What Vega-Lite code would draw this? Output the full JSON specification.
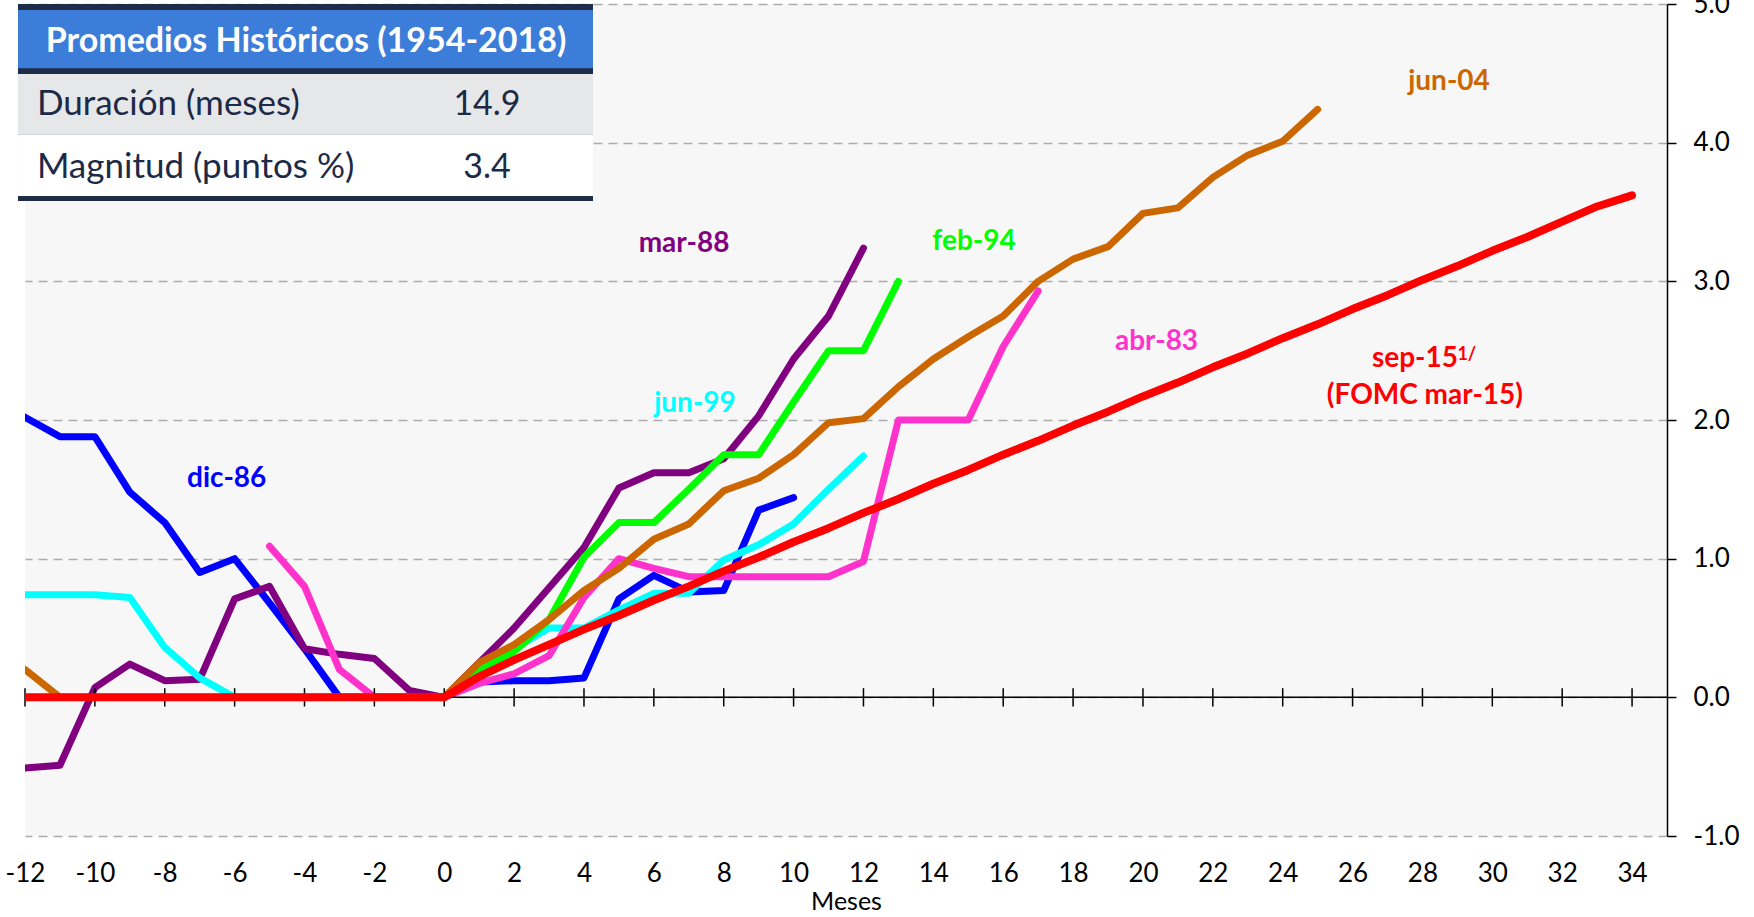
{
  "$schema": "https://vega.github.io/schema/vega-lite/v6.json",
  "width": 1642,
  "height": 832,
  "autosize": "none",
  "padding": {"left": 25, "top": 4, "right": 87, "bottom": 81},
  "background": "white",
  "config": {
    "view": {"fill": "#f7f7f7", "stroke": null},
    "font": "Lato",
    "axis": {"labelFont": "Lato", "titleFont": "Lato"}
  },
  "datasets": {
    "series": [
      {"serie":"dic-86","mes":-12,"valor":2.02},{"serie":"dic-86","mes":-11,"valor":1.88},{"serie":"dic-86","mes":-10,"valor":1.88},{"serie":"dic-86","mes":-9,"valor":1.48},{"serie":"dic-86","mes":-8,"valor":1.26},{"serie":"dic-86","mes":-7,"valor":0.90},{"serie":"dic-86","mes":-6,"valor":1.00},{"serie":"dic-86","mes":-5,"valor":0.68},{"serie":"dic-86","mes":-4,"valor":0.35},{"serie":"dic-86","mes":-3,"valor":0},{"serie":"dic-86","mes":-2,"valor":0},{"serie":"dic-86","mes":-1,"valor":0},{"serie":"dic-86","mes":0,"valor":0},{"serie":"dic-86","mes":1,"valor":0.11},{"serie":"dic-86","mes":2,"valor":0.12},{"serie":"dic-86","mes":3,"valor":0.12},{"serie":"dic-86","mes":4,"valor":0.14},{"serie":"dic-86","mes":5,"valor":0.71},{"serie":"dic-86","mes":6,"valor":0.88},{"serie":"dic-86","mes":7,"valor":0.76},{"serie":"dic-86","mes":8,"valor":0.77},{"serie":"dic-86","mes":9,"valor":1.35},{"serie":"dic-86","mes":10,"valor":1.44},
      {"serie":"mar-88","mes":-12,"valor":-0.51},{"serie":"mar-88","mes":-11,"valor":-0.49},{"serie":"mar-88","mes":-10,"valor":0.07},{"serie":"mar-88","mes":-9,"valor":0.24},{"serie":"mar-88","mes":-8,"valor":0.12},{"serie":"mar-88","mes":-7,"valor":0.13},{"serie":"mar-88","mes":-6,"valor":0.71},{"serie":"mar-88","mes":-5,"valor":0.80},{"serie":"mar-88","mes":-4,"valor":0.35},{"serie":"mar-88","mes":-3,"valor":0.31},{"serie":"mar-88","mes":-2,"valor":0.28},{"serie":"mar-88","mes":-1,"valor":0.05},{"serie":"mar-88","mes":0,"valor":0},{"serie":"mar-88","mes":1,"valor":0.25},{"serie":"mar-88","mes":2,"valor":0.50},{"serie":"mar-88","mes":3,"valor":0.79},{"serie":"mar-88","mes":4,"valor":1.08},{"serie":"mar-88","mes":5,"valor":1.51},{"serie":"mar-88","mes":6,"valor":1.62},{"serie":"mar-88","mes":7,"valor":1.62},{"serie":"mar-88","mes":8,"valor":1.72},{"serie":"mar-88","mes":9,"valor":2.03},{"serie":"mar-88","mes":10,"valor":2.44},{"serie":"mar-88","mes":11,"valor":2.75},{"serie":"mar-88","mes":12,"valor":3.24},
      {"serie":"jun-99","mes":-12,"valor":0.74},{"serie":"jun-99","mes":-11,"valor":0.74},{"serie":"jun-99","mes":-10,"valor":0.74},{"serie":"jun-99","mes":-9,"valor":0.72},{"serie":"jun-99","mes":-8,"valor":0.36},{"serie":"jun-99","mes":-7,"valor":0.14},{"serie":"jun-99","mes":-6,"valor":0},{"serie":"jun-99","mes":-5,"valor":0},{"serie":"jun-99","mes":-4,"valor":0},{"serie":"jun-99","mes":-3,"valor":0},{"serie":"jun-99","mes":-2,"valor":0},{"serie":"jun-99","mes":-1,"valor":0},{"serie":"jun-99","mes":0,"valor":0},{"serie":"jun-99","mes":1,"valor":0.20},{"serie":"jun-99","mes":2,"valor":0.35},{"serie":"jun-99","mes":3,"valor":0.50},{"serie":"jun-99","mes":4,"valor":0.50},{"serie":"jun-99","mes":5,"valor":0.63},{"serie":"jun-99","mes":6,"valor":0.75},{"serie":"jun-99","mes":7,"valor":0.75},{"serie":"jun-99","mes":8,"valor":0.99},{"serie":"jun-99","mes":9,"valor":1.10},{"serie":"jun-99","mes":10,"valor":1.25},{"serie":"jun-99","mes":11,"valor":1.50},{"serie":"jun-99","mes":12,"valor":1.74},
      {"serie":"abr-83","mes":-5,"valor":1.09},{"serie":"abr-83","mes":-4,"valor":0.80},{"serie":"abr-83","mes":-3,"valor":0.20},{"serie":"abr-83","mes":-2,"valor":0},{"serie":"abr-83","mes":-1,"valor":0},{"serie":"abr-83","mes":0,"valor":0},{"serie":"abr-83","mes":1,"valor":0.10},{"serie":"abr-83","mes":2,"valor":0.17},{"serie":"abr-83","mes":3,"valor":0.30},{"serie":"abr-83","mes":4,"valor":0.72},{"serie":"abr-83","mes":5,"valor":1.00},{"serie":"abr-83","mes":6,"valor":0.93},{"serie":"abr-83","mes":7,"valor":0.87},{"serie":"abr-83","mes":8,"valor":0.87},{"serie":"abr-83","mes":9,"valor":0.87},{"serie":"abr-83","mes":10,"valor":0.87},{"serie":"abr-83","mes":11,"valor":0.87},{"serie":"abr-83","mes":12,"valor":0.98},{"serie":"abr-83","mes":13,"valor":2.00},{"serie":"abr-83","mes":14,"valor":2.00},{"serie":"abr-83","mes":15,"valor":2.00},{"serie":"abr-83","mes":16,"valor":2.53},{"serie":"abr-83","mes":17,"valor":2.93},
      {"serie":"feb-94","mes":0,"valor":0},{"serie":"feb-94","mes":1,"valor":0.20},{"serie":"feb-94","mes":2,"valor":0.33},{"serie":"feb-94","mes":3,"valor":0.56},{"serie":"feb-94","mes":4,"valor":1.01},{"serie":"feb-94","mes":5,"valor":1.26},{"serie":"feb-94","mes":6,"valor":1.26},{"serie":"feb-94","mes":7,"valor":1.50},{"serie":"feb-94","mes":8,"valor":1.75},{"serie":"feb-94","mes":9,"valor":1.75},{"serie":"feb-94","mes":10,"valor":2.13},{"serie":"feb-94","mes":11,"valor":2.50},{"serie":"feb-94","mes":12,"valor":2.50},{"serie":"feb-94","mes":13,"valor":3.00},
      {"serie":"jun-04","mes":-12,"valor":0.20},{"serie":"jun-04","mes":-11,"valor":0},{"serie":"jun-04","mes":-10,"valor":0},{"serie":"jun-04","mes":-9,"valor":0},{"serie":"jun-04","mes":-8,"valor":0},{"serie":"jun-04","mes":-7,"valor":0},{"serie":"jun-04","mes":-6,"valor":0},{"serie":"jun-04","mes":-5,"valor":0},{"serie":"jun-04","mes":-4,"valor":0},{"serie":"jun-04","mes":-3,"valor":0},{"serie":"jun-04","mes":-2,"valor":0},{"serie":"jun-04","mes":-1,"valor":0},{"serie":"jun-04","mes":0,"valor":0},{"serie":"jun-04","mes":1,"valor":0.25},{"serie":"jun-04","mes":2,"valor":0.38},{"serie":"jun-04","mes":3,"valor":0.56},{"serie":"jun-04","mes":4,"valor":0.77},{"serie":"jun-04","mes":5,"valor":0.93},{"serie":"jun-04","mes":6,"valor":1.14},{"serie":"jun-04","mes":7,"valor":1.25},{"serie":"jun-04","mes":8,"valor":1.49},{"serie":"jun-04","mes":9,"valor":1.58},{"serie":"jun-04","mes":10,"valor":1.75},{"serie":"jun-04","mes":11,"valor":1.98},{"serie":"jun-04","mes":12,"valor":2.01},{"serie":"jun-04","mes":13,"valor":2.24},{"serie":"jun-04","mes":14,"valor":2.44},{"serie":"jun-04","mes":15,"valor":2.60},{"serie":"jun-04","mes":16,"valor":2.75},{"serie":"jun-04","mes":17,"valor":3.00},{"serie":"jun-04","mes":18,"valor":3.16},{"serie":"jun-04","mes":19,"valor":3.25},{"serie":"jun-04","mes":20,"valor":3.49},{"serie":"jun-04","mes":21,"valor":3.53},{"serie":"jun-04","mes":22,"valor":3.75},{"serie":"jun-04","mes":23,"valor":3.91},{"serie":"jun-04","mes":24,"valor":4.01},{"serie":"jun-04","mes":25,"valor":4.24},
      {"serie":"sep-15","mes":-12,"valor":0},{"serie":"sep-15","mes":-11,"valor":0},{"serie":"sep-15","mes":-10,"valor":0},{"serie":"sep-15","mes":-9,"valor":0},{"serie":"sep-15","mes":-8,"valor":0},{"serie":"sep-15","mes":-7,"valor":0},{"serie":"sep-15","mes":-6,"valor":0},{"serie":"sep-15","mes":-5,"valor":0},{"serie":"sep-15","mes":-4,"valor":0},{"serie":"sep-15","mes":-3,"valor":0},{"serie":"sep-15","mes":-2,"valor":0},{"serie":"sep-15","mes":-1,"valor":0},{"serie":"sep-15","mes":0,"valor":0},{"serie":"sep-15","mes":1,"valor":0.15},{"serie":"sep-15","mes":2,"valor":0.27},{"serie":"sep-15","mes":3,"valor":0.38},{"serie":"sep-15","mes":4,"valor":0.49},{"serie":"sep-15","mes":5,"valor":0.59},{"serie":"sep-15","mes":6,"valor":0.70},{"serie":"sep-15","mes":7,"valor":0.80},{"serie":"sep-15","mes":8,"valor":0.91},{"serie":"sep-15","mes":9,"valor":1.01},{"serie":"sep-15","mes":10,"valor":1.12},{"serie":"sep-15","mes":11,"valor":1.22},{"serie":"sep-15","mes":12,"valor":1.33},{"serie":"sep-15","mes":13,"valor":1.43},{"serie":"sep-15","mes":14,"valor":1.54},{"serie":"sep-15","mes":15,"valor":1.64},{"serie":"sep-15","mes":16,"valor":1.75},{"serie":"sep-15","mes":17,"valor":1.85},{"serie":"sep-15","mes":18,"valor":1.96},{"serie":"sep-15","mes":19,"valor":2.06},{"serie":"sep-15","mes":20,"valor":2.17},{"serie":"sep-15","mes":21,"valor":2.27},{"serie":"sep-15","mes":22,"valor":2.38},{"serie":"sep-15","mes":23,"valor":2.48},{"serie":"sep-15","mes":24,"valor":2.59},{"serie":"sep-15","mes":25,"valor":2.69},{"serie":"sep-15","mes":26,"valor":2.80},{"serie":"sep-15","mes":27,"valor":2.90},{"serie":"sep-15","mes":28,"valor":3.01},{"serie":"sep-15","mes":29,"valor":3.11},{"serie":"sep-15","mes":30,"valor":3.22},{"serie":"sep-15","mes":31,"valor":3.32},{"serie":"sep-15","mes":32,"valor":3.43},{"serie":"sep-15","mes":33,"valor":3.54},{"serie":"sep-15","mes":34,"valor":3.62}
    ],
    "marcas": [
      {"mes":-12},{"mes":-10},{"mes":-8},{"mes":-6},{"mes":-4},{"mes":-2},{"mes":0},{"mes":2},{"mes":4},{"mes":6},{"mes":8},{"mes":10},{"mes":12},{"mes":14},{"mes":16},{"mes":18},{"mes":20},{"mes":22},{"mes":24},{"mes":26},{"mes":28},{"mes":30},{"mes":32},{"mes":34}
    ]
  },
  "layer": [
    {
      "data": {"name": "series"},
      "transform": [{"filter": "datum.serie === 'dic-86'"}],
      "mark": {"type": "line", "color": "#0000ff", "strokeWidth": 7, "strokeCap": "round", "strokeJoin": "round", "clip": true},
      "encoding": {
        "x": {
          "field": "mes", "type": "quantitative",
          "scale": {"domain": [-12, 35], "nice": false, "zero": false},
          "axis": {
            "values": [-12,-10,-8,-6,-4,-2,0,2,4,6,8,10,12,14,16,18,20,22,24,26,28,30,32,34],
            "title": "Meses", "titleFontSize": 25, "titleFontWeight": "normal", "titleColor": "#000000", "titlePadding": 3,
            "ticks": false, "tickSize": 0, "domain": false, "grid": false,
            "labelFontSize": 26, "labelColor": "#000000", "labelPadding": 24,
            "labelExpr": "'' + datum.value", "labelFlush": false, "labelOverlap": false
          }
        },
        "y": {
          "field": "valor", "type": "quantitative",
          "scale": {"domain": [-1, 5], "nice": false, "zero": false},
          "axis": {
            "orient": "right", "values": [-1,0,1,2,3,4,5], "title": null,
            "grid": true, "gridDash": [9,6], "gridColor": "#ababab", "gridWidth": 1.5,
            "domain": true, "domainColor": "#000000", "domainWidth": 1.5,
            "ticks": true, "tickSize": 9, "tickColor": "#000000", "tickWidth": 1.5,
            "labelFontSize": 26, "labelColor": "#000000", "labelPadding": 17,
            "labelExpr": "replace(format(datum.value, '.1f'), '\u2212', '-')",
            "labelFlush": false, "labelOverlap": false
          }
        }
      }
    },
    {"data": {"name": "series"}, "transform": [{"filter": "datum.serie === 'mar-88'"}], "mark": {"type": "line", "color": "#800080", "strokeWidth": 7, "strokeCap": "round", "strokeJoin": "round", "clip": true}, "encoding": {"x": {"field": "mes", "type": "quantitative"}, "y": {"field": "valor", "type": "quantitative"}}},
    {"data": {"name": "series"}, "transform": [{"filter": "datum.serie === 'jun-99'"}], "mark": {"type": "line", "color": "#00ffff", "strokeWidth": 7, "strokeCap": "round", "strokeJoin": "round", "clip": true}, "encoding": {"x": {"field": "mes", "type": "quantitative"}, "y": {"field": "valor", "type": "quantitative"}}},
    {"data": {"name": "series"}, "transform": [{"filter": "datum.serie === 'abr-83'"}], "mark": {"type": "line", "color": "#ff33cc", "strokeWidth": 7, "strokeCap": "round", "strokeJoin": "round", "clip": true}, "encoding": {"x": {"field": "mes", "type": "quantitative"}, "y": {"field": "valor", "type": "quantitative"}}},
    {"data": {"name": "series"}, "transform": [{"filter": "datum.serie === 'feb-94'"}], "mark": {"type": "line", "color": "#00ff00", "strokeWidth": 7, "strokeCap": "round", "strokeJoin": "round", "clip": true}, "encoding": {"x": {"field": "mes", "type": "quantitative"}, "y": {"field": "valor", "type": "quantitative"}}},
    {"data": {"name": "series"}, "transform": [{"filter": "datum.serie === 'jun-04'"}], "mark": {"type": "line", "color": "#cc6600", "strokeWidth": 7, "strokeCap": "round", "strokeJoin": "round", "clip": true}, "encoding": {"x": {"field": "mes", "type": "quantitative"}, "y": {"field": "valor", "type": "quantitative"}}},
    {
      "data": {"values": [{}]},
      "mark": {"type": "rule", "color": "#000000", "strokeWidth": 1.5},
      "encoding": {"y": {"datum": 0}}
    },
    {
      "data": {"name": "marcas"},
      "mark": {"type": "rule", "color": "#000000", "strokeWidth": 1.5},
      "encoding": {
        "x": {"field": "mes", "type": "quantitative"},
        "y": {"datum": -0.066},
        "y2": {"datum": 0.066}
      }
    },
    {"data": {"name": "series"}, "transform": [{"filter": "datum.serie === 'sep-15'"}], "mark": {"type": "line", "color": "#ff0000", "strokeWidth": 8, "strokeCap": "round", "strokeJoin": "round", "clip": true}, "encoding": {"x": {"field": "mes", "type": "quantitative"}, "y": {"field": "valor", "type": "quantitative"}}},
    {"data": {"values": [{"etiqueta": "dic-86"}]}, "mark": {"type": "text", "color": "#0000ff", "font": "Lato", "fontWeight": "bold", "fontSize": 28, "align": "center", "baseline": "alphabetic"}, "encoding": {"x": {"datum": -6.227}, "y": {"datum": 1.519}, "text": {"field": "etiqueta"}}},
    {"data": {"values": [{"etiqueta": "mar-88"}]}, "mark": {"type": "text", "color": "#800080", "font": "Lato", "fontWeight": "bold", "fontSize": 28, "align": "center", "baseline": "alphabetic"}, "encoding": {"x": {"datum": 6.863}, "y": {"datum": 3.214}, "text": {"field": "etiqueta"}}},
    {"data": {"values": [{"etiqueta": "jun-99"}]}, "mark": {"type": "text", "color": "#00ffff", "font": "Lato", "fontWeight": "bold", "fontSize": 28, "align": "center", "baseline": "alphabetic"}, "encoding": {"x": {"datum": 7.178}, "y": {"datum": 2.06}, "text": {"field": "etiqueta"}}},
    {"data": {"values": [{"etiqueta": "feb-94"}]}, "mark": {"type": "text", "color": "#00ff00", "font": "Lato", "fontWeight": "bold", "fontSize": 28, "align": "center", "baseline": "alphabetic"}, "encoding": {"x": {"datum": 15.164}, "y": {"datum": 3.226}, "text": {"field": "etiqueta"}}},
    {"data": {"values": [{"etiqueta": "abr-83"}]}, "mark": {"type": "text", "color": "#ff33cc", "font": "Lato", "fontWeight": "bold", "fontSize": 28, "align": "center", "baseline": "alphabetic"}, "encoding": {"x": {"datum": 20.388}, "y": {"datum": 2.505}, "text": {"field": "etiqueta"}}},
    {"data": {"values": [{"etiqueta": "jun-04"}]}, "mark": {"type": "text", "color": "#cc6600", "font": "Lato", "fontWeight": "bold", "fontSize": 28, "align": "center", "baseline": "alphabetic"}, "encoding": {"x": {"datum": 28.76}, "y": {"datum": 4.38}, "text": {"field": "etiqueta"}}},
    {"data": {"values": [{"etiqueta": "sep-15"}]}, "mark": {"type": "text", "color": "#ff0000", "font": "Lato", "fontWeight": "bold", "fontSize": 28, "align": "center", "baseline": "alphabetic"}, "encoding": {"x": {"datum": 27.787}, "y": {"datum": 2.384}, "text": {"field": "etiqueta"}}},
    {"data": {"values": [{"etiqueta": "1/"}]}, "mark": {"type": "text", "color": "#ff0000", "font": "Lato", "fontWeight": "bold", "fontSize": 18, "align": "left", "baseline": "alphabetic"}, "encoding": {"x": {"datum": 29.0}, "y": {"datum": 2.433}, "text": {"field": "etiqueta"}}},
    {"data": {"values": [{"etiqueta": "(FOMC mar-15)"}]}, "mark": {"type": "text", "color": "#ff0000", "font": "Lato", "fontWeight": "bold", "fontSize": 28, "align": "center", "baseline": "alphabetic"}, "encoding": {"x": {"datum": 28.07}, "y": {"datum": 2.115}, "text": {"field": "etiqueta"}}},
    {"data": {"values": [{}]}, "mark": {"type": "rect", "color": "#1f2c47"}, "encoding": {"x": {"datum": -12.2}, "x2": {"datum": 4.258}, "y": {"datum": 5.0}, "y2": {"datum": 3.579}}},
    {"data": {"values": [{}]}, "mark": {"type": "rect", "color": "#3b7dd8"}, "encoding": {"x": {"datum": -12.2}, "x2": {"datum": 4.258}, "y": {"datum": 4.957}, "y2": {"datum": 4.536}}},
    {"data": {"values": [{}]}, "mark": {"type": "rect", "color": "#e6e7e9"}, "encoding": {"x": {"datum": -12.2}, "x2": {"datum": 4.258}, "y": {"datum": 4.495}, "y2": {"datum": 4.06}}},
    {"data": {"values": [{}]}, "mark": {"type": "rect", "color": "#ffffff"}, "encoding": {"x": {"datum": -12.2}, "x2": {"datum": 4.258}, "y": {"datum": 4.06}, "y2": {"datum": 3.615}}},
    {"data": {"values": [{"texto": "Promedios Históricos (1954-2018)"}]}, "mark": {"type": "text", "color": "#ffffff", "font": "Lato", "fontWeight": "bold", "fontSize": 34, "align": "center", "baseline": "alphabetic"}, "encoding": {"x": {"datum": -3.957}, "y": {"datum": 4.656}, "text": {"field": "texto"}}},
    {"data": {"values": [{"texto": "Duración (meses)"}]}, "mark": {"type": "text", "color": "#1c2a47", "font": "Lato", "fontSize": 35, "align": "left", "baseline": "alphabetic"}, "encoding": {"x": {"datum": -11.66}, "y": {"datum": 4.1995}, "text": {"field": "texto"}}},
    {"data": {"values": [{"texto": "14.9"}]}, "mark": {"type": "text", "color": "#1c2a47", "font": "Lato", "fontSize": 34, "align": "center", "baseline": "alphabetic"}, "encoding": {"x": {"datum": 1.224}, "y": {"datum": 4.1995}, "text": {"field": "texto"}}},
    {"data": {"values": [{"texto": "Magnitud (puntos %)"}]}, "mark": {"type": "text", "color": "#1c2a47", "font": "Lato", "fontSize": 35, "align": "left", "baseline": "alphabetic"}, "encoding": {"x": {"datum": -11.66}, "y": {"datum": 3.743}, "text": {"field": "texto"}}},
    {"data": {"values": [{"texto": "3.4"}]}, "mark": {"type": "text", "color": "#1c2a47", "font": "Lato", "fontSize": 34, "align": "center", "baseline": "alphabetic"}, "encoding": {"x": {"datum": 1.224}, "y": {"datum": 3.743}, "text": {"field": "texto"}}}
  ]
}
